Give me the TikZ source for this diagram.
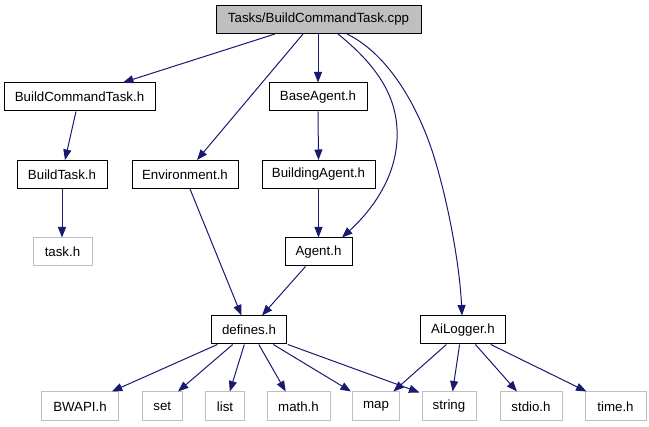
\documentclass[tikz,border=0pt]{standalone}
\usepackage{fontspec}
\setmainfont{Liberation Sans}
\usetikzlibrary{arrows.meta}
\definecolor{edgeblue}{HTML}{191970}
\definecolor{boxgray}{HTML}{BFBFBF}
\begin{document}
\begin{tikzpicture}[x=1pt,y=-1pt,
  every node/.style={font=\fontsize{13.3}{15}\selectfont, inner sep=0pt, minimum height=28pt, line width=1pt},
  hbox/.style={draw=black},
  sysbox/.style={draw=boxgray},
  topbox/.style={draw=black, fill=boxgray},
  edge/.style={draw=edgeblue, line width=1pt, -{Triangle[length=10.5pt,width=8pt]}}]
\useasboundingbox (0,0) rectangle (649,427);
% nodes
\node[topbox, minimum width=205pt] (top) at (318.5,19.5) {Tasks/BuildCommandTask.cpp};
\node[hbox, minimum width=151pt] (bcth) at (79.5,97) {BuildCommandTask.h};
\node[hbox, minimum width=98pt] (base) at (318,97) {BaseAgent.h};
\node[hbox, minimum width=90pt] (btask) at (62,174.5) {BuildTask.h};
\node[hbox, minimum width=106pt] (env) at (185,174.5) {Environment.h};
\node[hbox, minimum width=113pt] (bagent) at (318.5,174.5) {BuildingAgent.h};
\node[sysbox, minimum width=59pt] (task) at (62.5,252) {task.h};
\node[hbox, minimum width=67pt] (agent) at (318.5,252) {Agent.h};
\node[hbox, minimum width=74.5pt] (defines) at (249,330) {defines.h};
\node[hbox, minimum width=84.5pt] (ailog) at (463,330) {AiLogger.h};
\node[sysbox, minimum width=77pt, minimum height=29pt] (bwapi) at (80,406.5) {BWAPI.h};
\node[sysbox, minimum width=40pt, minimum height=29pt] (set) at (162.3,406.5) {set};
\node[sysbox, minimum width=38.5pt, minimum height=29pt] (list) at (225,406.5) {list};
\node[sysbox, minimum width=63pt, minimum height=29pt] (math) at (298.5,406.5) {math.h};
\node[sysbox, minimum width=47pt, minimum height=29pt] (map) at (376,406.5) {map};
\node[sysbox, minimum width=54pt, minimum height=29pt] (string) at (449,406.5) {string};
\node[sysbox, minimum width=62pt, minimum height=29pt] (stdio) at (531,406.5) {stdio.h};
\node[sysbox, minimum width=61pt, minimum height=29pt] (time) at (615.5,406.5) {time.h};
% edges from top
\draw[edge] ([xshift=-43.5pt]top.south) -- ([xshift=43.5pt]bcth.north);
\draw[edge] ([xshift=-15.5pt]top.south) -- ([xshift=12pt]env.north);
\draw[edge] (top.south -| base.north) -- (base.north);
\draw[edge] ([xshift=19.5pt]top.south) .. controls (380,68) and (399,100) .. (397,140) .. controls (395,180) and (370,212) .. ([xshift=23.5pt]agent.north);
\draw[edge] ([xshift=28.5pt]top.south) .. controls (390,55) and (420,110) .. (435,160) .. controls (450,210) and (460,270) .. ([xshift=-1pt]ailog.north);
% second level
\draw[edge] ([xshift=-3.5pt]bcth.south) -- ([xshift=3pt]btask.north);
\draw[edge] (base.south) -- (bagent.north);
\draw[edge] (btask.south) -- (btask.south |- task.north);
\draw[edge] (bagent.south) -- (bagent.south |- agent.north);
\draw[edge] ([xshift=5pt]env.south) -- ([xshift=-7.6pt]defines.north);
\draw[edge] ([xshift=-13pt]agent.south) -- ([xshift=13pt]defines.north);
% defines
\draw[edge] ([xshift=-31.6pt]defines.south) -- ([xshift=31.8pt]bwapi.north);
\draw[edge] ([xshift=-16.3pt]defines.south) -- ([xshift=15.7pt]set.north);
\draw[edge] ([xshift=-4.7pt]defines.south) -- ([xshift=4.8pt]list.north);
\draw[edge] ([xshift=9.8pt]defines.south) -- ([xshift=-12.8pt]math.north);
\draw[edge] ([xshift=24.3pt]defines.south) -- ([xshift=-1pt]map.north west);
\draw[edge] ([xshift=38.8pt]defines.south) -- ([xshift=-2pt,yshift=-1pt]string.north west);
% ailogger
\draw[edge] ([xshift=-16.6pt]ailog.south) -- ([xshift=17.4pt]map.north);
\draw[edge] ([xshift=-3.4pt]ailog.south) -- ([xshift=3.6pt]string.north);
\draw[edge] ([xshift=12.4pt]ailog.south) -- ([xshift=-14pt]stdio.north);
\draw[edge] ([xshift=27.7pt]ailog.south) -- ([xshift=2pt]time.north west);
\end{tikzpicture}
\end{document}
